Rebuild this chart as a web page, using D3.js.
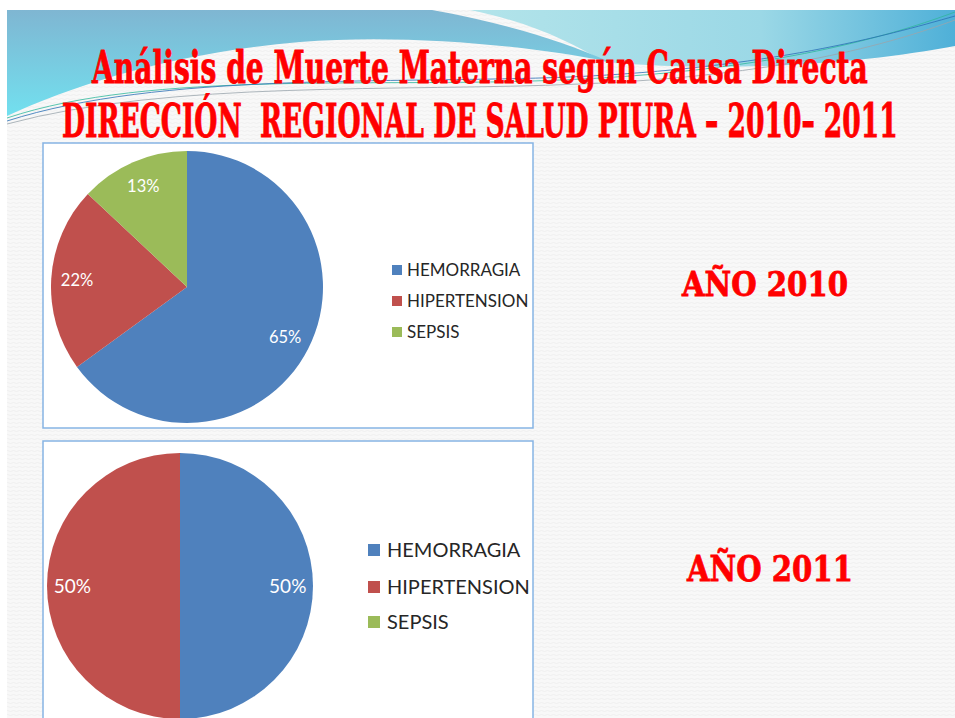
<!DOCTYPE html>
<html>
<head>
<meta charset="utf-8">
<script src="https://cdn.jsdelivr.net/npm/d3@7"></script>
<style>
  body { margin: 0; background: #ffffff; }
  svg { display: block; }
  .title { white-space: pre; }
</style>
</head>
<body>
<svg id="slide" width="955" height="718"></svg>
<script>
// data
var categories = ["HEMORRAGIA", "HIPERTENSION", "SEPSIS"];
var values_2010 = [65, 22, 13];
var values_2011 = [50, 50, 0];
var colors = ["#4F81BD", "#C0504D", "#9BBB59"];
var title_lines = ["Análisis de Muerte Materna según Causa Directa", "DIRECCIÓN  REGIONAL DE SALUD PIURA – 2010– 2011"];
var year_labels = ["AÑO 2010", "AÑO 2011"];

var svg = d3.select("svg#slide");
var color = d3.scaleOrdinal().domain(categories).range(colors);
var pct = d3.format(".0%");

function build_background() {
    var defs = svg.append("defs");

    var pat = defs.append("pattern")
        .attr("id", "texture")
        .attr("width", 6).attr("height", 4)
        .attr("patternUnits", "userSpaceOnUse");
    pat.append("rect").attr("width", 6).attr("height", 4).attr("fill", "#f8f8f8");
    pat.append("path").attr("d", "M0,3 Q1.5,2 3,3 T6,3").attr("fill", "none")
        .attr("stroke", "#efefef").attr("stroke-width", 1);

    var gA = defs.append("linearGradient").attr("id", "gradA")
        .attr("x1", 0).attr("y1", 0).attr("x2", 0).attr("y2", 1);
    gA.append("stop").attr("offset", "0%").attr("stop-color", "#7fb6d2");
    gA.append("stop").attr("offset", "100%").attr("stop-color", "#72e0ef");

    var gB = defs.append("linearGradient").attr("id", "gradB")
        .attr("x1", 0).attr("y1", 0).attr("x2", 1).attr("y2", 0);
    gB.append("stop").attr("offset", "0%").attr("stop-color", "#b3e4ea");
    gB.append("stop").attr("offset", "60%").attr("stop-color", "#9bd8e6");
    gB.append("stop").attr("offset", "100%").attr("stop-color", "#4fb0d8");

    svg.append("rect")
        .attr("x", 7).attr("y", 10)
        .attr("width", 948).attr("height", 708)
        .attr("fill", "url(#texture)");

    // swoosh at the top of the slide
    svg.append("path")
        .attr("d", "M470,10 L955,10 L955,46 C870,62 740,74 605,62 C570,42 530,22 470,10 Z")
        .attr("fill", "url(#gradB)");
    svg.append("path")
        .attr("d", "M7,10 L432,10 C500,22 560,40 610,62 C520,44 400,34 300,42 C180,52 80,82 7,116 Z")
        .attr("fill", "url(#gradA)");

    var lines = [
        {d: "M7,118 C150,70 380,88 560,80 C760,72 880,40 955,12", c: "#2fb89c"},
        {d: "M7,121 C160,72 390,84 570,77 C770,68 885,36 955,16", c: "#2a6fb5"},
        {d: "M7,124 C170,80 400,92 580,84 C780,76 890,44 955,20", c: "#9aa5ad"}
    ];
    svg.append("g").selectAll("path")
        .data(lines)
        .enter().append("path")
        .attr("d", d => d.d)
        .attr("fill", "none")
        .attr("stroke", d => d.c)
        .attr("stroke-width", 1)
        .attr("opacity", 0.8);
}

function build_title() {
    var spans = [
        {x: 92, y: 83, w: 776, size: 45},
        {x: 62, y: 137, w: 836, size: 47}
    ];
    var t = svg.append("g").selectAll("text")
        .data(title_lines)
        .enter().append("text")
        .attr("class", "title")
        .attr("font-family", "'DejaVu Serif Condensed', 'DejaVu Serif', serif")
        .attr("font-weight", "bold")
        .attr("font-size", (d, i) => spans[i].size)
        .attr("fill", "#ff0000")
        .attr("stroke", "#ff0000")
        .attr("stroke-width", 0.8)
        .text(d => d);
    // squeeze each line horizontally to the width it has on the slide
    t.each(function (d, i) {
        var len = this.getComputedTextLength();
        d3.select(this).attr("transform",
            "translate(" + spans[i].x + "," + spans[i].y + ") scale(" + (spans[i].w / len) + ",1)");
    });
}

function build_pie(values, box, cx, cy, radius, legend) {
    // white chart frame
    svg.append("rect")
        .attr("x", box.x).attr("y", box.y)
        .attr("width", box.w).attr("height", box.h)
        .attr("fill", "#ffffff")
        .attr("stroke", "#86b4e4")
        .attr("stroke-width", 1.5);

    var total = d3.sum(values);
    var rows = categories.map((c, i) => ({name: c, value: values[i]}));
    var pie = d3.pie().sort(null).value(d => d.value);
    var arcs = pie(rows);

    var arc = d3.arc().innerRadius(0).outerRadius(radius);
    var label_arc = d3.arc().innerRadius(radius * 0.81).outerRadius(radius * 0.81);

    var g = svg.append("g").attr("transform", "translate(" + cx + "," + cy + ")");
    g.selectAll("path")
        .data(arcs.filter(d => d.data.value > 0))
        .enter().append("path")
        .attr("d", arc)
        .attr("fill", d => color(d.data.name));

    g.selectAll("text")
        .data(arcs.filter(d => d.data.value > 0))
        .enter().append("text")
        .attr("transform", d => "translate(" + label_arc.centroid(d) + ")")
        .attr("text-anchor", "middle")
        .attr("dy", "0.35em")
        .attr("font-family", "Lato, 'Open Sans', sans-serif")
        .attr("font-size", legend.label_size)
        .attr("fill", "#ffffff")
        .text(d => pct(d.data.value / total));

    // legend
    var lg = svg.append("g");
    var item = lg.selectAll("g")
        .data(categories)
        .enter().append("g")
        .attr("transform", (d, i) => "translate(" + legend.x + "," + legend.ys[i] + ")");
    item.append("rect")
        .attr("x", 0).attr("y", -legend.box / 2)
        .attr("width", legend.box).attr("height", legend.box)
        .attr("fill", d => color(d));
    item.append("text")
        .attr("x", legend.text_dx)
        .attr("dy", "0.36em")
        .attr("font-family", "Lato, 'Open Sans', sans-serif")
        .attr("font-size", legend.size)
        .attr("fill", "#262626")
        .text(d => d);
}

function build_years() {
    var pos = [
        {x: 765, y: 296, size: 33, w: 166},
        {x: 770, y: 581, size: 36, w: 166}
    ];
    svg.append("g").selectAll("text")
        .data(year_labels)
        .enter().append("text")
        .attr("x", (d, i) => pos[i].x)
        .attr("y", (d, i) => pos[i].y)
        .attr("text-anchor", "middle")
        .attr("textLength", (d, i) => pos[i].w)
        .attr("lengthAdjust", "spacingAndGlyphs")
        .attr("font-family", "'DejaVu Serif', serif")
        .attr("font-weight", "bold")
        .attr("font-size", (d, i) => pos[i].size)
        .attr("fill", "#ff0000")
        .attr("stroke", "#ff0000")
        .attr("stroke-width", 0.8)
        .text(d => d);
}

build_background();
build_title();
build_pie(values_2010, {x: 43, y: 143, w: 490, h: 285}, 187, 287, 136,
    {x: 392, ys: [270, 301, 332], box: 10, text_dx: 15, size: 17, label_size: 16.5});
build_pie(values_2011, {x: 43, y: 441, w: 490, h: 290}, 180, 586, 133,
    {x: 368, ys: [550, 587, 622], box: 12, text_dx: 19, size: 20, label_size: 19});
build_years();
</script>
</body>
</html>
